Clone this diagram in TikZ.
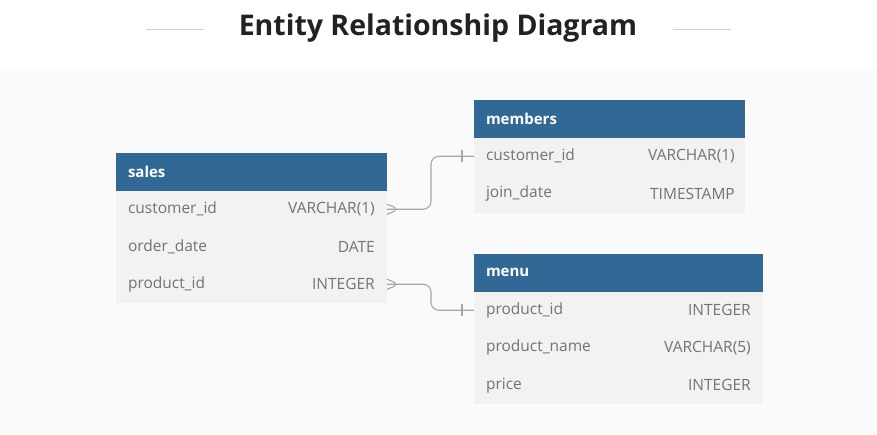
\documentclass[tikz,border=0pt]{standalone}
\usepackage{fontspec}
\setmainfont{Open Sans}
\usetikzlibrary{positioning}
\definecolor{erblue}{HTML}{316896}
\definecolor{rowgray}{HTML}{F2F2F2}
\definecolor{bggray}{HTML}{FAFAFA}
\definecolor{rowtext}{HTML}{737373}
\definecolor{linegray}{HTML}{A3A6AD}
\definecolor{rulegray}{HTML}{C9D0D6}
\definecolor{titletext}{HTML}{222222}
\tikzset{
    header/.style={
        rectangle,
        fill=erblue,
        text=white,
        font=\bfseries\fontsize{15}{18}\selectfont,
        minimum height=37.5pt,
        inner xsep=12pt,
        outer sep=0pt,
        text width=#1,
        align=left
    },
    row/.style={
        rectangle,
        fill=rowgray,
        text=rowtext,
        font=\fontsize{15.5}{18}\selectfont,
        minimum height=37.5pt,
        inner xsep=12pt,
        outer sep=0pt,
        text width=#1,
        align=left
    },
    dtype/.style={
        text=rowtext,
        font=\fontsize{15.5}{18}\selectfont,
        inner xsep=12pt,
        anchor=east
    },
    conn/.style={
        draw=linegray,
        line width=1.1pt,
        rounded corners=8pt
    }
}

\begin{document}
\begin{tikzpicture}[x=1pt, y=-1pt, node distance=0pt]

\useasboundingbox (0,0) rectangle (877,434);
\fill[white] (0,0) rectangle (877,70);
\fill[bggray] (0,70) rectangle (877,434);

% title
\node (title) [text=titletext] at (438,28) {\fontsize{28.5}{34}\selectfont\bfseries Entity Relationship Diagram};
\draw[rulegray, line width=0.8pt] (146,29) -- (204,29);
\draw[rulegray, line width=0.8pt] (673,29) -- (731,29);

% sales
\node (sales) [header=247pt, anchor=north west] at (116,153) {sales};
\node (scid) [row=247pt, below=of sales] {customer\_id};
\node (sdate) [row=247pt, below=of scid] {order\_date};
\node (spid) [row=247pt, below=of sdate] {product\_id};
\node (scidt) [dtype] at (scid.east) {VARCHAR(1)};
\node (sdatet) [dtype] at (sdate.east) {DATE};
\node (spidt) [dtype] at (spid.east) {INTEGER};

% members
\node (members) [header=247pt, anchor=north west] at (474,100) {members};
\node (mcid) [row=247pt, below=of members] {customer\_id};
\node (mjoin) [row=247pt, below=of mcid] {join\_date};
\node (mcidt) [dtype, inner xsep=10pt] at (mcid.east) {VARCHAR(1)};
\node (mjoint) [dtype, inner xsep=10pt] at (mjoin.east) {TIMESTAMP};

% menu
\node (menu) [header=265pt, anchor=north west] at (474,254) {menu};
\node (npid) [row=265pt, below=of menu] {product\_id};
\node (nname) [row=265pt, below=of npid] {product\_name};
\node (nprice) [row=265pt, below=of nname] {price};
\node (npidt) [dtype] at (npid.east) {INTEGER};
\node (nnamet) [dtype] at (nname.east) {VARCHAR(5)};
\node (npricet) [dtype] at (nprice.east) {INTEGER};

% relations
\draw[conn] (scid.east) -- ++(44,0) |- (mcid.west);
\draw[conn] (spid.east) -- ++(44,0) |- (npid.west);

% crow's feet and bars
\draw[conn] ([yshift=5pt]scid.east) -- ([xshift=13pt]scid.east) -- ([yshift=-5pt]scid.east);
\draw[conn] ([yshift=5pt]spid.east) -- ([xshift=13pt]spid.east) -- ([yshift=-5pt]spid.east);
\draw[conn] ([xshift=-12pt,yshift=6pt]mcid.west) -- ([xshift=-12pt,yshift=-6pt]mcid.west);
\draw[conn] ([xshift=-12pt,yshift=6pt]npid.west) -- ([xshift=-12pt,yshift=-6pt]npid.west);

\end{tikzpicture}
\end{document}
